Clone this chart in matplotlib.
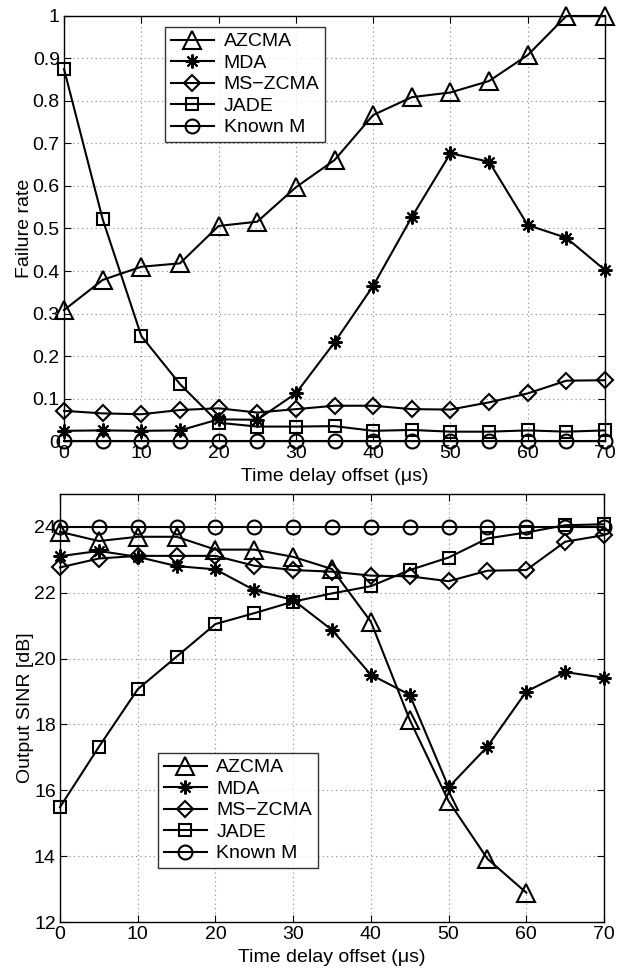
import matplotlib
matplotlib.use("Agg")
import matplotlib.pyplot as plt

plt.rcParams['font.family'] = ['Liberation Sans', 'DejaVu Sans']
plt.rcParams['font.size'] = 14

# time delay offset (us)
delay = [0, 5, 10, 15, 20, 25, 30, 35, 40, 45, 50, 55, 60, 65, 70]

# failure rate (top panel)
fail_azcma = [0.308, 0.379, 0.41, 0.418, 0.506, 0.516, 0.597, 0.661, 0.767, 0.809, 0.82, 0.847, 0.908, 1.0, 1.0]
fail_mda = [0.024, 0.025, 0.024, 0.025, 0.051, 0.05, 0.112, 0.232, 0.365, 0.527, 0.677, 0.657, 0.508, 0.478, 0.402]
fail_mszcma = [0.071, 0.065, 0.063, 0.073, 0.077, 0.067, 0.075, 0.083, 0.083, 0.075, 0.074, 0.091, 0.112, 0.142, 0.143]
fail_jade = [0.875, 0.522, 0.247, 0.134, 0.043, 0.034, 0.034, 0.035, 0.024, 0.026, 0.022, 0.022, 0.025, 0.022, 0.025]
fail_known = [0.0] * 15

# output SINR in dB (bottom panel)
delay_az = [0, 5, 10, 15, 20, 25, 30, 35, 40, 45, 50, 55, 60]
sinr_azcma = [23.85, 23.57, 23.7, 23.7, 23.31, 23.31, 23.09, 22.72, 21.12, 18.14, 15.67, 13.92, 12.89]
sinr_mda = [23.11, 23.27, 23.09, 22.81, 22.71, 22.08, 21.78, 20.87, 19.51, 18.9, 16.09, 17.33, 19.0, 19.59, 19.42]
sinr_mszcma = [22.77, 23.04, 23.12, 23.12, 23.12, 22.82, 22.69, 22.64, 22.52, 22.5, 22.35, 22.67, 22.69, 23.55, 23.75]
sinr_jade = [15.49, 17.32, 19.07, 20.06, 21.05, 21.38, 21.73, 21.98, 22.2, 22.69, 23.07, 23.65, 23.83, 24.05, 24.08]
sinr_known = [24.0] * 15

names = ["AZCMA", "MDA", "MS\u2212ZCMA", "JADE", "Known M"]
markers = ['^', (8, 2, 0), 'D', 's', 'o']
msizes = [13, 10, 8.5, 8, 10]

fig = plt.figure(figsize=(6.24, 9.68), dpi=100)
ax1 = fig.add_axes([0.1026, 0.5444, 0.867, 0.4391])
ax2 = fig.add_axes([0.0962, 0.0475, 0.8718, 0.4422])


def draw(ax, series):
    for (xs, ys), name, m, ms in zip(series, names, markers, msizes):
        ax.plot(xs, ys, color='k', linewidth=1.5, marker=m, markersize=ms,
                markerfacecolor='none', markeredgecolor='k', markeredgewidth=1.5,
                label=name, clip_on=False)
    ax.grid(True, linestyle=(0, (1, 3)), color='#888888', linewidth=0.8)
    ax.tick_params(direction='in', top=True, right=True, length=5, labelsize=14, pad=3)
    ax.set_xlim(0, 70)
    ax.set_xticks(range(0, 71, 10))
    for s in ax.spines.values():
        s.set_linewidth(1.0)
    ax.set_xlabel("Time delay offset (\u03bcs)", fontsize=14, labelpad=4)


def add_legend(ax, anchor):
    ax.legend(loc='upper left', bbox_to_anchor=anchor, frameon=True,
              fancybox=False, edgecolor='k', fontsize=14, handlelength=2.2,
              borderpad=0.3, labelspacing=0.2, handletextpad=0.5, borderaxespad=0)


draw(ax1, [(delay, fail_azcma), (delay, fail_mda), (delay, fail_mszcma),
           (delay, fail_jade), (delay, fail_known)])
ax1.set_ylim(0, 1)
ax1.set_yticks([i / 10 for i in range(11)])
ax1.set_yticklabels(['0'] + ['0.%d' % i for i in range(1, 10)] + ['1'])
ax1.set_ylabel("Failure rate", fontsize=14, labelpad=0)
add_legend(ax1, (0.187, 0.974))

draw(ax2, [(delay_az, sinr_azcma), (delay, sinr_mda), (delay, sinr_mszcma),
           (delay, sinr_jade), (delay, sinr_known)])
ax2.set_ylim(12, 25)
ax2.set_yticks(range(12, 25, 2))
ax2.set_ylabel("Output SINR [dB]", fontsize=14, labelpad=0)
add_legend(ax2, (0.18, 0.395))

fig.savefig("out.png", dpi=100)
